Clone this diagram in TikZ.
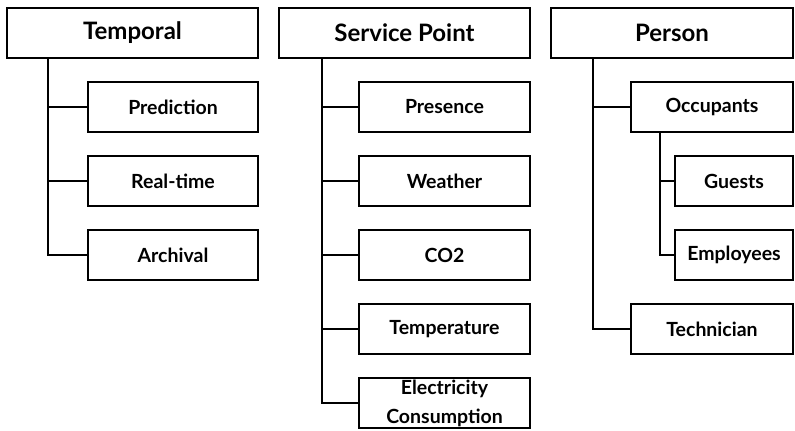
\documentclass[tikz,border=0pt]{standalone}
\usepackage{fontspec}
\setmainfont{Lato}
\usetikzlibrary{positioning, calc}

\begin{document}
\begin{tikzpicture}[
    node distance=24bp,
    head/.style={rectangle, draw, line width=1.2bp, outer sep=0pt, minimum width=251bp, minimum height=50bp, inner sep=0pt, font=\fontsize{24bp}{28bp}\selectfont\bfseries},
    leaf/.style={rectangle, draw, line width=1.2bp, outer sep=0pt, minimum width=170bp, minimum height=50bp, inner sep=0pt, align=center, font=\fontsize{19.5bp}{29bp}\selectfont\bfseries},
    link/.style={line width=1.2bp},
]
\useasboundingbox (0,0) rectangle (795bp,-431bp);

% Headers
\node[head, anchor=north west] (tmp) at (7bp,-8bp) {Temporal};
\node[head, anchor=north west] (svc) at (279bp,-8bp) {Service Point};
\node[head, anchor=north west, minimum width=242bp] (per) at (551bp,-8bp) {Person};

% Temporal
\node[leaf, below=of tmp.south east, anchor=north east] (pred) {Prediction};
\node[leaf, below=of pred] (real) {Real-time};
\node[leaf, below=of real] (arch) {Archival};

% Service point
\node[leaf, below=of svc.south east, anchor=north east, minimum width=171bp] (pres) {Presence};
\node[leaf, below=of pres, minimum width=171bp] (weat) {Weather};
\node[leaf, below=of weat, minimum width=171bp] (co2) {CO2};
\node[leaf, below=of co2, minimum width=171bp] (temp) {Temperature};
\node[leaf, below=of temp, minimum width=171bp] (elec) {Electricity\\Consumption};

% Person
\node[leaf, below=of per.south east, anchor=north east, minimum width=162bp] (occ) {Occupants};
\node[leaf, below=of occ.south east, anchor=north east, minimum width=118bp] (gue) {Guests};
\node[leaf, below=of gue, minimum width=118bp] (emp) {Employees};
\node[leaf, below=of emp.south east, anchor=north east, minimum width=162bp] (tech) {Technician};

% Links
\foreach \leafname in {pred, real, arch}
  \draw[link] ($(tmp.south west)+(41bp,0)$) |- (\leafname.west);
\foreach \leafname in {pres, weat, co2, temp, elec}
  \draw[link] ($(svc.south west)+(43bp,0)$) |- (\leafname.west);
\foreach \leafname in {occ, tech}
  \draw[link] ($(per.south west)+(42bp,0)$) |- (\leafname.west);
\foreach \leafname in {gue, emp}
  \draw[link] ($(occ.south west)+(29bp,0)$) |- (\leafname.west);

\end{tikzpicture}
\end{document}
